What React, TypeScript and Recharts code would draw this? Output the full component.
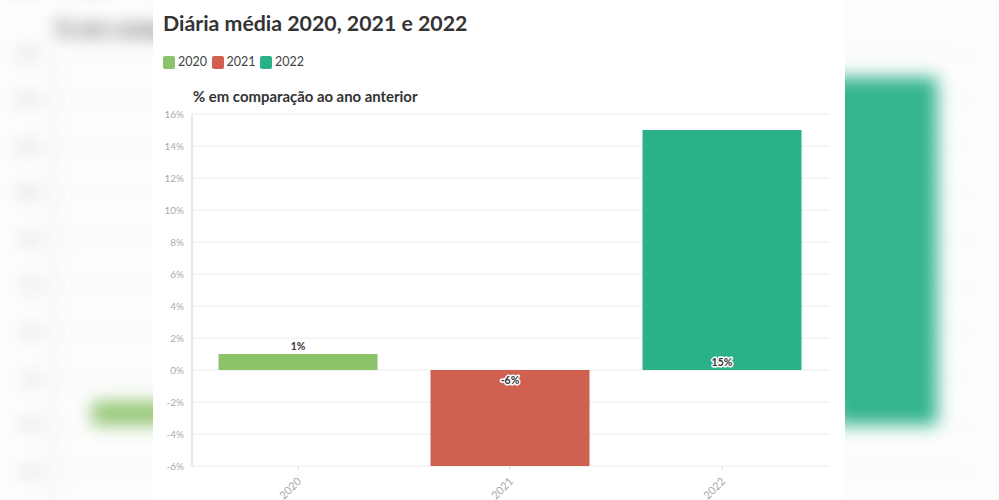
import React from "react";
import { BarChart, Bar, XAxis, YAxis, CartesianGrid, Cell, LabelList } from "recharts";

const years = ["2020", "2021", "2022"];
const changes = [1, -6, 15];
const colors = ["#8cc26a", "#d06150", "#2ab18a"];
const yTicks = [-6, -4, -2, 0, 2, 4, 6, 8, 10, 12, 14, 16];

const data = years.map((year, i) => ({ year, value: changes[i], color: colors[i] }));

const FONT = "Lato, 'Noto Sans', sans-serif";

const BarLabel = (props: any) => {
  const { x, y, width, height, value } = props;
  const base = y + height;
  const top = value >= 0 ? Math.min(y, base) : Math.max(y, base);
  const inside = Math.abs(height) > 20;
  let ty;
  if (value >= 0) ty = inside ? base - 4 : top - 4;
  else ty = inside ? base + 14 : top + 14;
  return (
    <text
      x={x + width / 2}
      y={ty}
      textAnchor="middle"
      fontSize={10.5}
      fontWeight={700}
      fontFamily={FONT}
      fill="#333"
      stroke="#fff"
      strokeWidth={3}
      strokeLinejoin="round"
      paintOrder="stroke"
    >
      {value}%
    </text>
  );
};

const XTick = (props: any) => {
  const { x, y, payload } = props;
  return (
    <text
      x={x + 4}
      y={y + 10}
      transform={`rotate(-45, ${x + 4}, ${y + 10})`}
      textAnchor="end"
      fontSize={11}
      fontFamily={FONT}
      fill="#aaa"
    >
      {payload.value}
    </text>
  );
};

const Panel = () => (
  <div style={{ position: "relative", width: 692, height: 500, fontFamily: FONT }}>
    <div
      style={{
        position: "absolute",
        left: 10,
        top: 8,
        fontSize: 21.3,
        fontWeight: 700,
        color: "#333",
        lineHeight: "30px",
        whiteSpace: "nowrap",
      }}
    >
      Diária média 2020, 2021 e 2022
    </div>
    <div style={{ position: "absolute", left: 10, top: 54, display: "flex", fontSize: 12.5, color: "#444" }}>
      {years.map((yr, i) => (
        <div key={yr} style={{ display: "flex", alignItems: "center", marginRight: 4.5 }}>
          <span
            style={{
              display: "inline-block",
              width: 12,
              height: 13,
              borderRadius: 2,
              background: colors[i],
              marginRight: 3,
            }}
          />
          <span style={{ lineHeight: "16px" }}>{yr}</span>
        </div>
      ))}
    </div>
    <div
      style={{
        position: "absolute",
        left: 40,
        top: 86,
        fontSize: 14.9,
        fontWeight: 700,
        color: "#333",
        lineHeight: "20px",
        whiteSpace: "nowrap",
      }}
    >
      % em comparação ao ano anterior
    </div>
    <div style={{ position: "absolute", left: 0, top: 100 }}>
      <BarChart
        width={692}
        height={400}
        data={data}
        margin={{ top: 14, right: 17, bottom: 0, left: 0 }}
        barCategoryGap="12.5%"
      >
        <CartesianGrid vertical={false} stroke="#ececec" />
        <YAxis
          width={39}
          domain={[-6, 16]}
          ticks={yTicks}
          interval={0}
          tickFormatter={(v) => `${v}%`}
          tick={{ fontSize: 10, fill: "#aaa", fontFamily: FONT }}
          tickLine={false}
          axisLine={{ stroke: "#e8e8e8", strokeWidth: 2 }}
        />
        <XAxis
          dataKey="year"
          height={34}
          tick={<XTick />}
          tickLine={{ stroke: "#ddd" }}
          tickSize={4}
          axisLine={false}
        />
        <Bar dataKey="value" isAnimationActive={false}>
          {data.map((d, i) => (
            <Cell key={`cell-${i}`} fill={d.color} />
          ))}
          <LabelList dataKey="value" content={<BarLabel />} />
        </Bar>
      </BarChart>
    </div>
  </div>
);

export default function App() {
  return (
    <div
      style={{
        position: "absolute",
        left: 0,
        top: 0,
        width: 999,
        height: 500,
        overflow: "hidden",
        background: "#fdfdfd",
      }}
    >
      {/* blurred, enlarged copy of the card behind it */}
      <div
        style={{
          position: "absolute",
          left: 0,
          top: 0,
          transform: "translate(-3px, -111.5px) scale(1.45)",
          transformOrigin: "0 0",
          filter: "blur(6px)",
          opacity: 0.95,
        }}
      >
        <Panel />
      </div>
      <div style={{ position: "absolute", left: 153, top: 0, width: 692, height: 500, background: "#fff" }}>
        <Panel />
      </div>
    </div>
  );
}
